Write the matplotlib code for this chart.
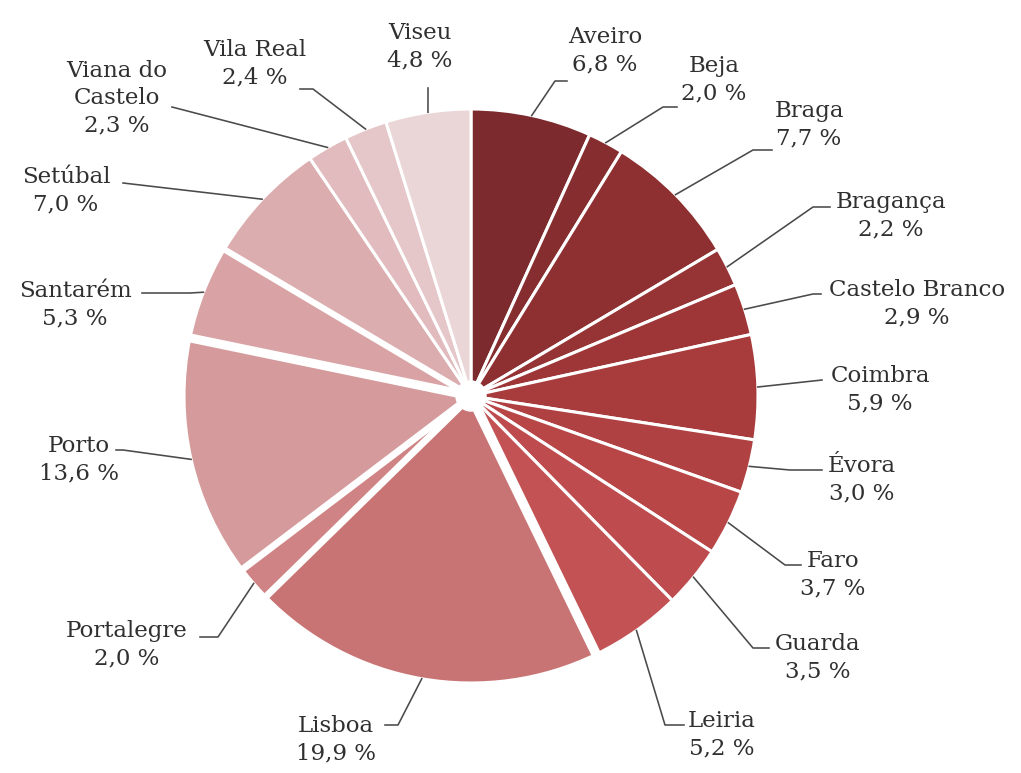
import numpy as np
import matplotlib
matplotlib.use("Agg")
import matplotlib.pyplot as plt

# ---------------- data ----------------
districts = ["Aveiro", "Beja", "Braga", "Bragança", "Castelo Branco", "Coimbra",
             "Évora", "Faro", "Guarda", "Leiria", "Lisboa", "Portalegre", "Porto",
             "Santarém", "Setúbal", "Viana do\nCastelo", "Vila Real", "Viseu"]
shares = [6.8, 2.0, 7.7, 2.2, 2.9, 5.9, 3.0, 3.7, 3.5, 5.2, 19.9, 2.0, 13.6,
          5.3, 7.0, 2.3, 2.4, 4.8]
value_labels = ["6,8 %", "2,0 %", "7,7 %", "2,2 %", "2,9 %", "5,9 %", "3,0 %",
                "3,7 %", "3,5 %", "5,2 %", "19,9 %", "2,0 %", "13,6 %", "5,3 %",
                "7,0 %", "2,3 %", "2,4 %", "4,8 %"]

# ---------------- style ----------------
colors = ["#7c2a2d", "#862d2f", "#8e3031", "#963334", "#9e3637", "#a83c3c",
          "#b04142", "#b84647", "#be4b4d", "#c35254", "#c97474", "#cf8384",
          "#d59a9b", "#d9a3a5", "#dcadaf", "#e1bbbd", "#e5c7c9", "#ead5d7"]

W, H = 1021, 773
CX, CY, R = 471, 396, 287

# label block centres (pixel coords, y down)
label_pos = [(605, 51), (714, 80), (809, 125), (891, 216), (917, 304), (880, 390),
             (862, 480), (833, 575), (818, 658), (722, 735), (336, 740),
             (127, 645), (79, 460), (75, 305), (66, 191), (117, 98), (255, 64),
             (420, 47)]
# leader elbows: list of points after the pie-edge start (pixel coords, y down)
leader_pts = [
    [(555, 81), (567, 81)],
    [(663, 107), (677, 107)],
    [(753, 150), (772, 150)],
    [(813, 207), (830, 207)],
    [(813, 294), (821, 294)],
    [(822, 380)],
    [(790, 470), (822, 470)],
    [(785, 565), (801, 565)],
    [(753, 648), (769, 648)],
    [(665, 725), (684, 725)],
    [(398, 725), (385, 725)],
    [(218, 637), (200, 637)],
    [(123, 450), (116, 450)],
    [(190, 293), (142, 293)],
    [(123, 183)],
    [(172, 107)],
    [(313, 89), (300, 89)],
    [(428, 88)],
]
wide_gaps = {9: 7.0, 10: 5.0, 11: 5.0, 12: 6.5, 13: 4.5}  # boundary index -> linewidth

text_color = "#303030"
line_color = "#4a4a4a"

fig = plt.figure(figsize=(W / 100, H / 100), dpi=100)
ax = fig.add_axes([0, 0, 1, 1])
ax.set_xlim(0, W)
ax.set_ylim(0, H)
ax.set_aspect("equal")
ax.axis("off")

cy_up = H - CY
wedges, _ = ax.pie(shares, colors=colors, startangle=90, counterclock=False,
                   center=(CX, cy_up), radius=R,
                   wedgeprops=dict(edgecolor="white", linewidth=2.2))
ax.set_xlim(0, W)
ax.set_ylim(0, H)

total = sum(shares)
cum = np.cumsum([0] + shares) / total
# wider white gaps on some boundaries
for idx, lw in wide_gaps.items():
    a = np.pi / 2 - 2 * np.pi * cum[idx + 1]
    ax.plot([CX, CX + (R + 3) * np.cos(a)], [cy_up, cy_up + (R + 3) * np.sin(a)],
            color="white", lw=lw, solid_capstyle="butt", zorder=5)
ax.add_patch(plt.Circle((CX, cy_up), 15, color="white", zorder=6))

for i, (name, val) in enumerate(zip(districts, value_labels)):
    mid = (cum[i] + cum[i + 1]) / 2
    a = np.pi / 2 - 2 * np.pi * mid
    sx, sy = CX + R * np.cos(a), cy_up + R * np.sin(a)
    xs = [sx] + [p[0] for p in leader_pts[i]]
    ys = [sy] + [H - p[1] for p in leader_pts[i]]
    ax.plot(xs, ys, color=line_color, lw=1.15, zorder=7)
    lx, ly = label_pos[i]
    ax.text(lx, H - ly, f"{name}\n{val}", ha="center", va="center",
            multialignment="center", fontsize=16.5, family="DejaVu Serif",
            color=text_color, linespacing=1.3, zorder=8)

fig.savefig("out.png", dpi=100, facecolor="white")
